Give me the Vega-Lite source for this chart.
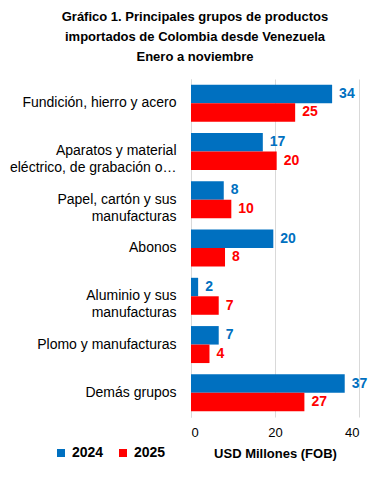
{
  "$schema": "https://vega.github.io/schema/vega-lite/v6.json",
  "autosize": "none",
  "width": 168,
  "height": 338,
  "padding": {"left": 191, "top": 79, "right": 30, "bottom": 61},
  "background": "white",
  "title": {
    "text": ["Gráfico 1. Principales grupos de productos", "importados de Colombia desde Venezuela", "Enero a noviembre"],
    "font": "Liberation Sans",
    "fontSize": 13,
    "fontWeight": "bold",
    "color": "#000000",
    "anchor": "middle",
    "dx": -80,
    "offset": 15,
    "lineHeight": 20
  },
  "data": {
    "values": [
      {"grupo": "Fundición, hierro y acero", "año": "2024", "valor": 33.6},
      {"grupo": "Fundición, hierro y acero", "año": "2025", "valor": 24.8},
      {"grupo": "Aparatos y material|eléctrico, de grabación o…", "año": "2024", "valor": 17.1},
      {"grupo": "Aparatos y material|eléctrico, de grabación o…", "año": "2025", "valor": 20.4},
      {"grupo": "Papel, cartón y sus|manufacturas", "año": "2024", "valor": 7.8},
      {"grupo": "Papel, cartón y sus|manufacturas", "año": "2025", "valor": 9.6},
      {"grupo": "Abonos", "año": "2024", "valor": 19.6},
      {"grupo": "Abonos", "año": "2025", "valor": 8.1},
      {"grupo": "Aluminio y sus|manufacturas", "año": "2024", "valor": 1.7},
      {"grupo": "Aluminio y sus|manufacturas", "año": "2025", "valor": 6.6},
      {"grupo": "Plomo y manufacturas", "año": "2024", "valor": 6.6},
      {"grupo": "Plomo y manufacturas", "año": "2025", "valor": 4.4},
      {"grupo": "Demás grupos", "año": "2024", "valor": 36.6},
      {"grupo": "Demás grupos", "año": "2025", "valor": 27.0}
    ]
  },
  "encoding": {
    "y": {
      "field": "grupo",
      "type": "nominal",
      "sort": null,
      "scale": {"paddingInner": 0.234, "paddingOuter": 0.117},
      "axis": {
        "title": null,
        "labelExpr": "split(datum.label, '|')",
        "labelFont": "Liberation Sans",
        "labelFontSize": 14,
        "labelColor": "#000000",
        "labelPadding": 15,
        "labelLineHeight": 17,
        "labelLimit": 200,
        "ticks": false,
        "domainColor": "#d9d9d9"
      }
    },
    "yOffset": {"field": "año", "type": "nominal", "scale": {"paddingInner": 0, "paddingOuter": 0}},
    "x": {
      "field": "valor",
      "type": "quantitative",
      "scale": {"domain": [0, 40]},
      "axis": {
        "title": "USD Millones (FOB)",
        "titleFont": "Liberation Sans",
        "titleFontSize": 13,
        "titleFontWeight": "bold",
        "titleColor": "#000000",
        "titlePadding": 8,
        "values": [0, 20, 40],
        "labelFont": "Liberation Sans",
        "labelFontSize": 13,
        "labelColor": "#000000",
        "labelPadding": 9,
        "ticks": false,
        "domain": false,
        "gridColor": "#d9d9d9"
      }
    },
    "color": {
      "field": "año",
      "type": "nominal",
      "scale": {"domain": ["2024", "2025"], "range": ["#0070C0", "#FF0000"]},
      "legend": {
        "title": null,
        "orient": "none",
        "direction": "horizontal",
        "legendX": -137,
        "legendY": 367,
        "symbolType": "square",
        "symbolSize": 64,
        "symbolStrokeWidth": 0,
        "labelFont": "Liberation Sans",
        "labelFontSize": 14,
        "labelFontWeight": "bold",
        "labelColor": "#000000",
        "columnPadding": 12
      }
    }
  },
  "layer": [
    {"mark": {"type": "bar"}},
    {
      "mark": {"type": "text", "align": "left", "dx": 7, "font": "Liberation Sans", "fontSize": 14, "fontWeight": "bold"},
      "encoding": {"text": {"field": "valor", "type": "quantitative", "format": ".0f"}}
    }
  ],
  "config": {"view": {"stroke": null}}
}
